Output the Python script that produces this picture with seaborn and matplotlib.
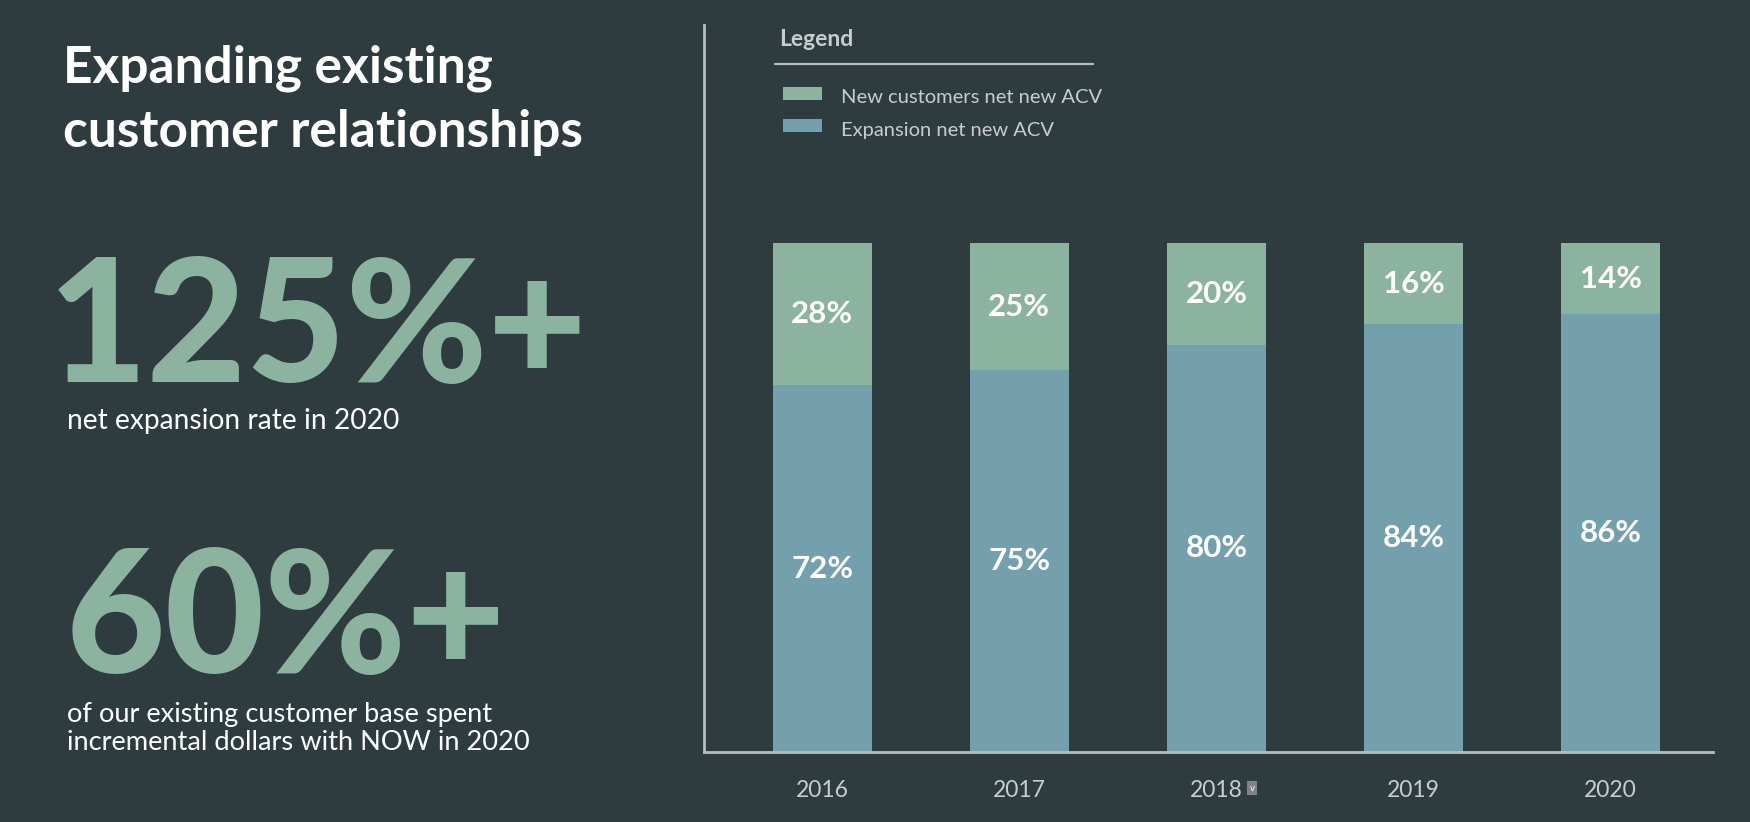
import matplotlib
matplotlib.use("Agg")
import matplotlib.pyplot as plt
import seaborn as sns
import pandas as pd
from matplotlib.patches import Rectangle
from matplotlib.lines import Line2D

# ---------------- data ----------------
years = ["2016", "2017", "2018", "2019", "2020"]
new_customers = [28, 25, 20, 16, 14]
expansion = [72, 75, 80, 84, 86]
legend_labels = ["New customers net new ACV", "Expansion net new ACV"]
title_lines = ["Expanding existing", "customer relationships"]
stat1_value = "125%+"
stat1_text = ["net expansion rate in 2020"]
stat2_value = "60%+"
stat2_text = ["of our existing customer base spent", "incremental dollars with NOW in 2020"]

# ---------------- style ----------------
BG = "#2e3c40"
GREEN = "#8bb3a0"
BLUE = "#74a0ae"
LIGHT = "#c9cccc"
AXIS = "#b9bdbd"
FONT = "Lato"

sns.set_theme(style="white")
plt.rcParams["font.family"] = [FONT, "DejaVu Sans"]

W, H = 1750, 822
fig = plt.figure(figsize=(W / 100, H / 100), dpi=100, facecolor=BG)
renderer = fig.canvas.get_renderer()


def px(x):
    return x / W


def py(y):
    return 1 - y / H


def fit_text(x, y, s, target_w, size=20, **kw):
    t = fig.text(px(x), py(y), s, fontsize=size, **kw)
    bb = t.get_window_extent(renderer)
    t.set_fontsize(size * target_w / bb.width)
    return t


df = pd.DataFrame({"year": years, "new": new_customers, "exp": expansion})
df["total"] = df["new"] + df["exp"]

left, right, top, bottom = 704, 1713, 25, 752
ax = fig.add_axes([px(left), py(bottom), px(right - left), (bottom - top) / H])
ax.set_facecolor(BG)

sns.barplot(data=df, x="year", y="total", color=GREEN, width=0.503,
            linewidth=0, saturation=1, ax=ax)
sns.barplot(data=df, x="year", y="exp", color=BLUE, width=0.503,
            linewidth=0, saturation=1, ax=ax)

ax.set_xlim(-0.6, 4.52)
ax.set_ylim(0, 142.8)
ax.set_xlabel("")
ax.set_ylabel("")
ax.set_yticks([])
for s in ["top", "right"]:
    ax.spines[s].set_visible(False)
for s in ["left", "bottom"]:
    ax.spines[s].set_color(AXIS)
    ax.spines[s].set_linewidth(2)
ax.tick_params(axis="x", length=0, pad=20, labelcolor=LIGHT, labelsize=16.5)
for lab in ax.get_xticklabels():
    lab.set_fontfamily(FONT)

# value labels
for i, (n, e) in enumerate(zip(new_customers, expansion)):
    ax.text(i, e + n / 2, f"{n}%", ha="center", va="center", color="white",
            fontsize=22.5, fontweight="bold", fontfamily=FONT)
    ax.text(i, e / 2, f"{e}%", ha="center", va="center", color="white",
            fontsize=22.5, fontweight="bold", fontfamily=FONT)

# small dropdown marker next to 2018
fig.text(px(1252), py(788), "v", ha="center", va="center", fontsize=6,
         color="white", fontfamily="DejaVu Sans",
         bbox=dict(boxstyle="square,pad=0.25", facecolor="#808385", edgecolor="none"))

# legend
fig.text(px(779), py(46), "Legend", fontsize=16.5, fontweight="bold",
         color=LIGHT, ha="left", va="baseline")
fig.add_artist(Line2D([px(775), px(1093)], [py(64), py(64)], color=AXIS, linewidth=1.6))
for (y0, y1, col, lab, base) in [(87, 100, GREEN, legend_labels[0], 103),
                                 (119, 132, BLUE, legend_labels[1], 136)]:
    fig.add_artist(Rectangle((px(783), py(y1)), px(822) - px(783), (y1 - y0) / H,
                             facecolor=col, edgecolor="none"))
    fig.text(px(841), py(base), lab, fontsize=14.5, color=LIGHT,
             ha="left", va="baseline")

# title
t2 = fit_text(63, 147, title_lines[1], 520, fontweight="bold", color="white",
              ha="left", va="baseline")
fig.text(px(63), py(83), title_lines[0], fontsize=t2.get_fontsize(), fontweight="bold",
         color="white", ha="left", va="baseline")

# big stats
b1 = fit_text(48, 382, stat1_value, 540, size=100, fontweight="black", color=GREEN,
              ha="left", va="baseline")
fig.text(px(66), py(673), stat2_value, fontsize=b1.get_fontsize(), fontweight="black",
         color=GREEN, ha="left", va="baseline")

s1 = fit_text(67, 429, stat1_text[0], 332, color="white", ha="left", va="baseline")
s2b = fit_text(67, 750, stat2_text[1], 465, color="white", ha="left", va="baseline")
fig.text(px(67), py(722), stat2_text[0], fontsize=s2b.get_fontsize(), color="white",
         ha="left", va="baseline")

fig.savefig("out.png", dpi=100, facecolor=BG)
